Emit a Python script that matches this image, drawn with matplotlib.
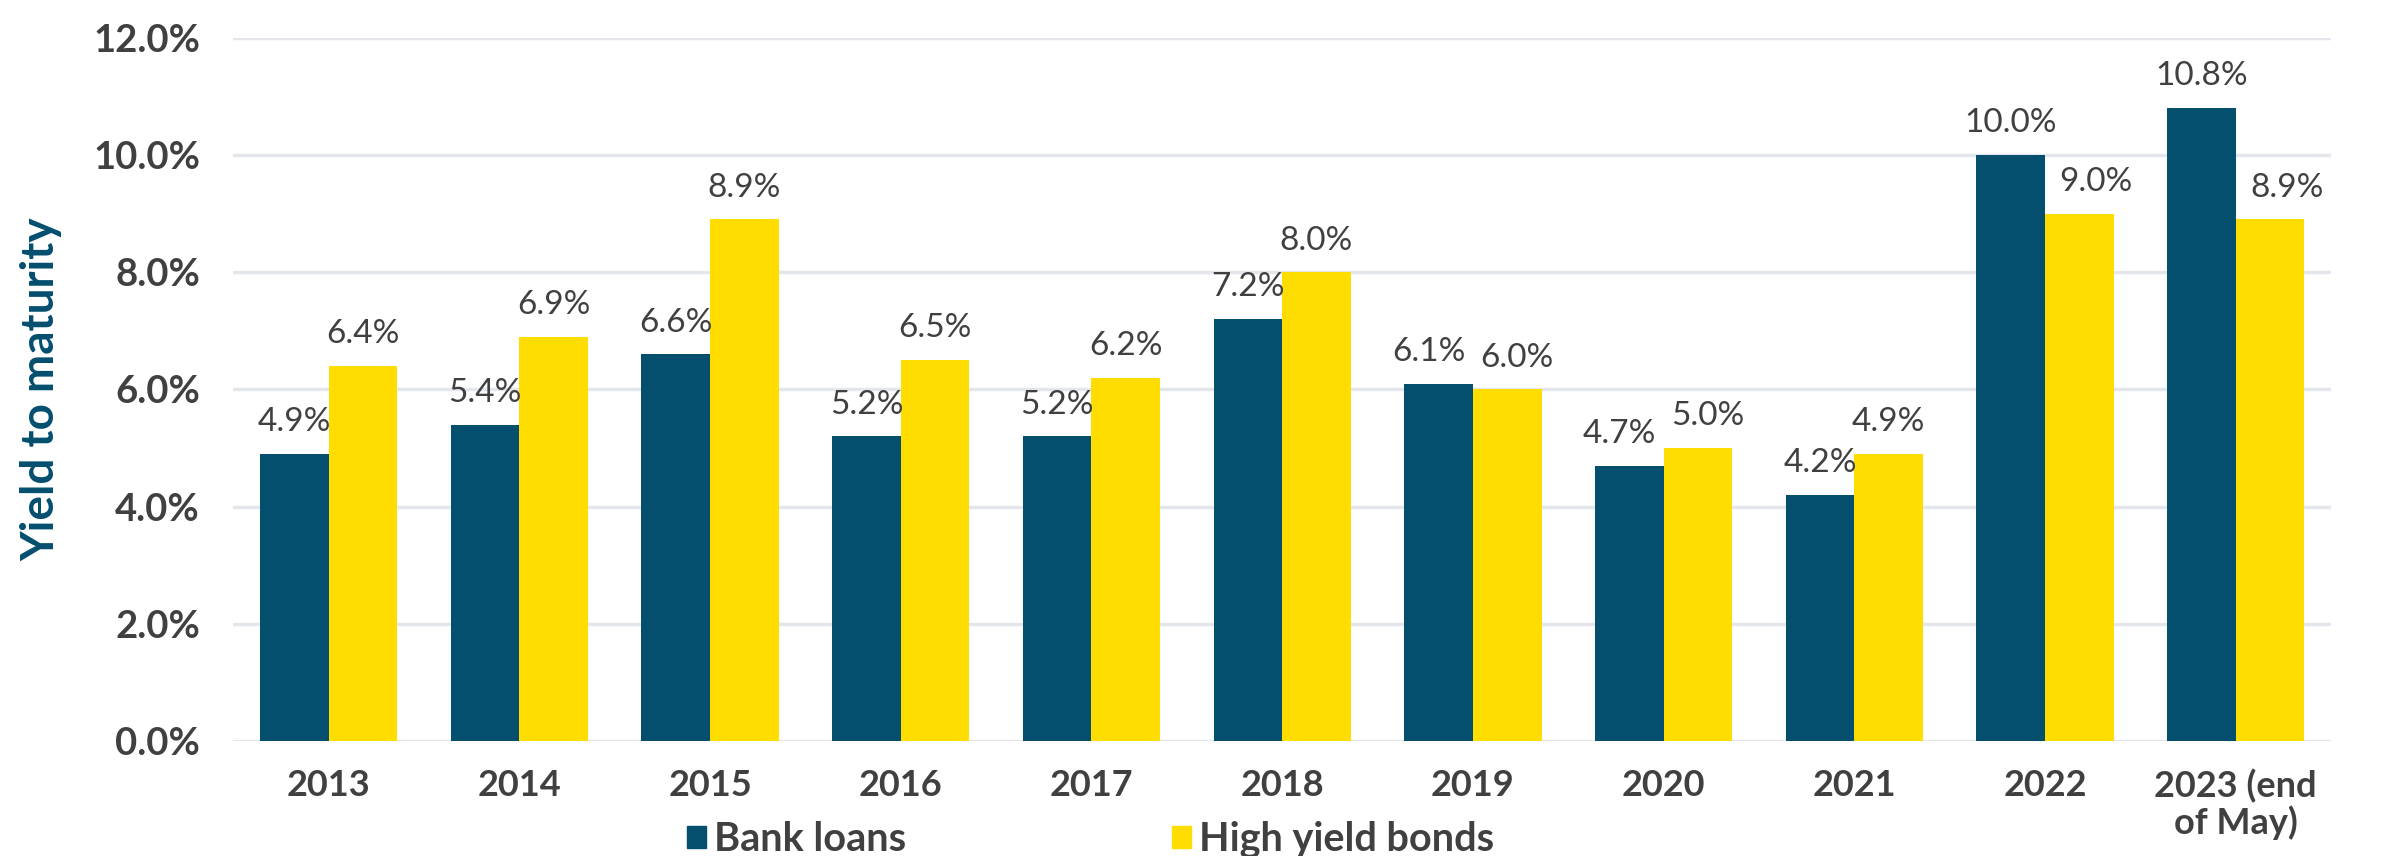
import numpy as np
import matplotlib.pyplot as plt
from matplotlib.patches import Patch

years = ["2013", "2014", "2015", "2016", "2017", "2018", "2019", "2020", "2021", "2022",
         "2023 (end\nof May)"]
bank_loans = [4.9, 5.4, 6.6, 5.2, 5.2, 7.2, 6.1, 4.7, 4.2, 10.0, 10.8]
high_yield = [6.4, 6.9, 8.9, 6.5, 6.2, 8.0, 6.0, 5.0, 4.9, 9.0, 8.9]

navy = "#044E6E"
yellow = "#FFDD00"
grey_text = "#404040"

plt.rcParams["font.family"] = ["Lato", "DejaVu Sans"]

fig = plt.figure(figsize=(23.81, 8.56), dpi=100)
ax = fig.add_axes([0.098, 0.134, 0.881, 0.822])

x = np.arange(len(years))
w = 0.36
b1 = ax.bar(x - w / 2, bank_loans, w, color=navy, zorder=3)
b2 = ax.bar(x + w / 2, high_yield, w, color=yellow, zorder=3)

# value labels; pull apart pairs that would run into each other
for i in range(len(years)):
    dx_bank, dx_hy = 0, 0
    if abs(bank_loans[i] - high_yield[i]) < 0.5:
        dx_bank, dx_hy = -7, 7
    elif bank_loans[i] > high_yield[i] + 0.5:
        dx_hy = 12
    for bar, v, dx in ((b1[i], bank_loans[i], dx_bank), (b2[i], high_yield[i], dx_hy)):
        ax.annotate(f"{v:.1f}%", (bar.get_x() + bar.get_width() / 2, v),
                    xytext=(dx, 12), textcoords="offset points",
                    ha="center", va="bottom", fontsize=24, color=grey_text, zorder=4)

ax.set_ylim(0, 12)
ax.set_xlim(-0.5, len(years) - 0.5)
yt = np.arange(0, 12.1, 2)
ax.set_yticks(yt)
ax.set_yticklabels([f"{t:.1f}%" for t in yt], fontsize=27.5, fontweight="bold", color=grey_text)
ax.set_xticks(x)
ax.set_xticklabels(years, fontsize=26, fontweight="bold", color=grey_text, linespacing=1.05)
ax.tick_params(axis="both", length=0)
ax.tick_params(axis="x", pad=20)
ax.tick_params(axis="y", pad=24)

ax.grid(axis="y", color="#E3E6EA", linewidth=2.5, zorder=0)
for s in ax.spines.values():
    s.set_visible(False)

ax.set_ylabel("Yield to maturity", fontsize=33, fontweight="bold", color=navy)
ax.yaxis.set_label_coords(-0.0815, 0.5)

handles = [Patch(color=navy, label="Bank loans"), Patch(color=yellow, label="High yield bonds")]
leg = fig.legend(handles=handles, loc="center", bbox_to_anchor=(0.458, 0.019), ncol=2,
                 frameon=False, handlelength=0.5, handleheight=0.5, handletextpad=0.2,
                 columnspacing=6.7, borderpad=0,
                 prop={"weight": "bold", "size": 28.5})
for t in leg.get_texts():
    t.set_color(grey_text)

fig.savefig("out.png", dpi=100)
